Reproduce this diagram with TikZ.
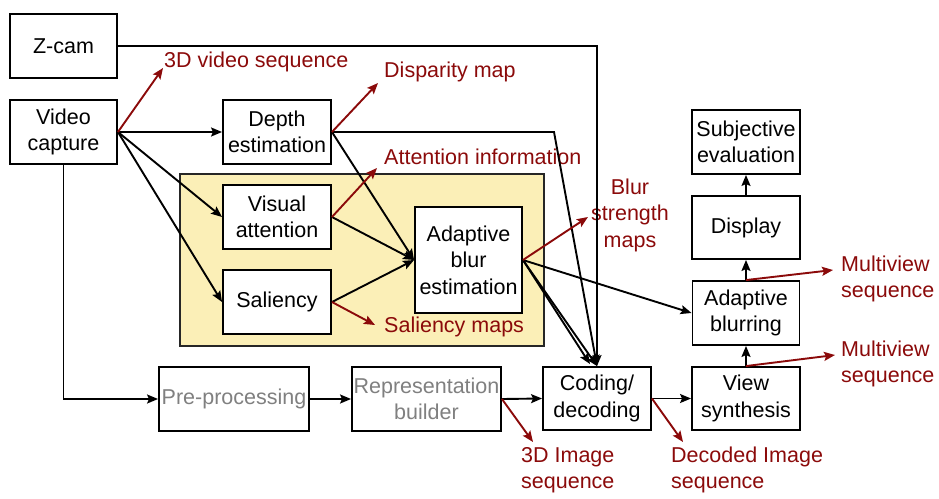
\documentclass[tikz,border=0pt]{standalone}
\usepackage{fontspec}
\setmainfont{Liberation Sans}
\usetikzlibrary{arrows.meta}
\definecolor{dred}{HTML}{8B0A0A}
\definecolor{ylw}{HTML}{FBEFB7}
\definecolor{gtxt}{HTML}{808080}
\tikzset{
  box/.style={draw, fill=white, line width=1.9pt, minimum width=107pt, minimum height=64pt,
    align=center, inner sep=0pt, font=\fontsize{21.5pt}{26.5pt}\selectfont},
  lbl/.style={text=dred, align=left, inner sep=0pt, font=\fontsize{21.5pt}{26.5pt}\selectfont},
  blk/.style={line width=1.9pt, -{Stealth[length=11pt,width=9pt,inset=2pt]}},
  red/.style={draw=dred, line width=1.9pt, -{Stealth[length=11pt,width=9pt,inset=2pt]}, color=dred},
  plain/.style={line width=1.9pt}
}
\begin{document}
\begin{tikzpicture}[x=1pt,y=-1pt]
\useasboundingbox (0,0) rectangle (939,498);
\fill[ylw] (180,174) rectangle (544,346);
\draw[line width=1.9pt, draw=black!85] (180,174) rectangle (544,346);

\node[box] (zcam) at (63.5,46) {Z-cam};
\node[box] (vcap) at (63.5,132) {Video\\capture};
\node[box, minimum width=108pt] (depth) at (277,132) {Depth\\estimation};
\node[box, minimum width=108pt] (visatt) at (277,217) {Visual\\attention};
\node[box, minimum width=108pt] (sal) at (277,302) {Saliency};
\node[box, minimum height=106pt] (abe) at (468.5,260) {Adaptive\\blur\\estimation};
\node[box, minimum width=150pt, text=gtxt] (pre) at (234,399) {Pre-processing};
\node[box, minimum width=149pt, text=gtxt] (rep) at (426.5,399) {Representation\\builder};
\node[box, minimum width=108pt, minimum height=63pt] (cod) at (597,398.5) {Coding/\\decoding};
\node[box, minimum width=108pt, minimum height=63pt] (vs) at (746,398.5) {View\\synthesis};
\node[box] (ab) at (746,313) {Adaptive\\blurring};
\node[box, minimum width=108pt, minimum height=63pt] (disp) at (746,227.5) {Display};
\node[box, minimum width=108pt] (subj) at (746,142) {Subjective\\evaluation};

% labels
\node[lbl, anchor=west] (l3d) at (164,62) {3D video sequence};
\node[lbl, anchor=west] (ldisp) at (384,72) {Disparity map};
\node[lbl, anchor=west] (latt) at (384,157) {Attention information};
\node[lbl, anchor=west] (lsal) at (384,327) {Saliency maps};
\node[lbl, align=center] (lblur) at (630,215) {Blur\\strength\\maps};
\node[lbl, anchor=west] (limg) at (521,470) {3D Image\\sequence};
\node[lbl, anchor=west] (ldec) at (671,470) {Decoded Image\\sequence};
\node[lbl, anchor=west] (lmv1) at (841,364) {Multiview\\sequence};
\node[lbl, anchor=west] (lmv2) at (841,279) {Multiview\\sequence};

\coordinate (e3d) at (163,68);
\coordinate (edisp) at (378,83);
\coordinate (eatt) at (377,168);
\coordinate (esal) at (375,325);
\coordinate (eblur) at (588,217);
\coordinate (eimg) at (533,442);
\coordinate (edec) at (683,442);
\coordinate (emv1) at (835,355);
\coordinate (emv2) at (833,270);
\coordinate (dbend) at (554,132);

% black connectors
\draw[blk] (zcam.east) -| (cod.north);
\draw[blk] (depth.east) -- (dbend) -- (cod.north);
\draw[blk] (vcap.east) -- (depth.west);
\draw[blk] (vcap.east) -- (visatt.west);
\draw[blk] (vcap.east) -- (sal.west);
\draw[blk] (vcap.south) |- (pre.west);
\draw[blk] (pre.east) -- (rep.west);
\draw[blk] (rep.east) -- (cod.west);
\draw[blk] (cod.east) -- (vs.west);
\draw[blk] (depth.east) -- (abe.west);
\draw[blk] (visatt.east) -- (abe.west);
\draw[blk] (sal.east) -- (abe.west);
\draw[blk] (abe.east) -- (ab.west);
\draw[blk] (abe.east) -- (cod.north);
\draw[blk] (abe.east) -- ([xshift=-7pt,yshift=2pt]cod.north);
\draw[blk] (vs.north) -- (ab.south);
\draw[blk] (ab.north) -- (disp.south);
\draw[blk] (disp.north) -- (subj.south);

% red connectors
\draw[red] (vcap.east) -- (e3d);
\draw[red] (depth.east) -- (edisp);
\draw[red] (visatt.east) -- (eatt);
\draw[red] (sal.east) -- (esal);
\draw[red] (abe.east) -- (eblur);
\draw[red] (rep.east) -- (eimg);
\draw[red] (cod.east) -- (edec);
\draw[red] (vs.north) -- (emv1);
\draw[red] (ab.north) -- (emv2);
\end{tikzpicture}
\end{document}
